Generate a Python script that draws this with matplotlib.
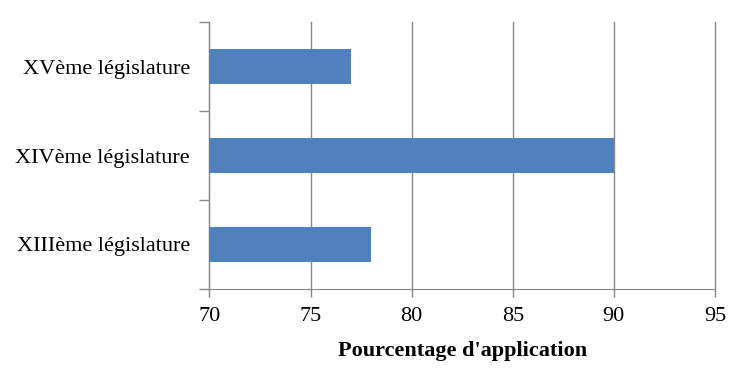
import matplotlib.pyplot as plt

# données
legislatures = ['XIIIème législature', 'XIVème législature', 'XVème législature']
pourcentages = [78, 90, 77]
ticks_x = [70, 75, 80, 85, 90, 95]

plt.rcParams['font.family'] = ['Liberation Serif', 'DejaVu Serif']

fig = plt.figure(figsize=(7.5, 3.86), dpi=100)
ax = fig.add_axes([0.2793, 0.2513, 0.674, 0.6917])

pos = range(len(legislatures))
ax.barh(pos, pourcentages, height=0.4, color='#4F81BD', zorder=3)

ax.set_xlim(70, 95)
ax.set_ylim(-0.5, len(legislatures) - 0.5)
ax.set_xticks(ticks_x)
ax.set_xticklabels([str(t) for t in ticks_x], fontsize=16)

# graduations entre catégories
ax.set_yticks([i - 0.5 for i in range(len(legislatures) + 1)])
ax.set_yticklabels([])
ax.set_yticks(list(pos), minor=True)
ax.set_yticklabels(legislatures, minor=True, fontsize=16)
ax.tick_params(axis='y', which='minor', length=0, pad=14)
ax.tick_params(axis='y', which='major', length=7, width=1, color='#868686')
ax.tick_params(axis='x', length=6, width=1, color='#868686', pad=7)

ax.grid(axis='x', color='#868686', linewidth=1, zorder=0)
for line in ax.get_xgridlines():
    line.set_clip_on(False)
for s in ['top', 'right']:
    ax.spines[s].set_visible(False)
ax.spines['left'].set_color('#868686')
ax.spines['bottom'].set_color('#868686')

ax.set_xlabel("Pourcentage d'application", fontsize=16, fontweight='bold', labelpad=11)

fig.savefig('out.png', dpi=100)
